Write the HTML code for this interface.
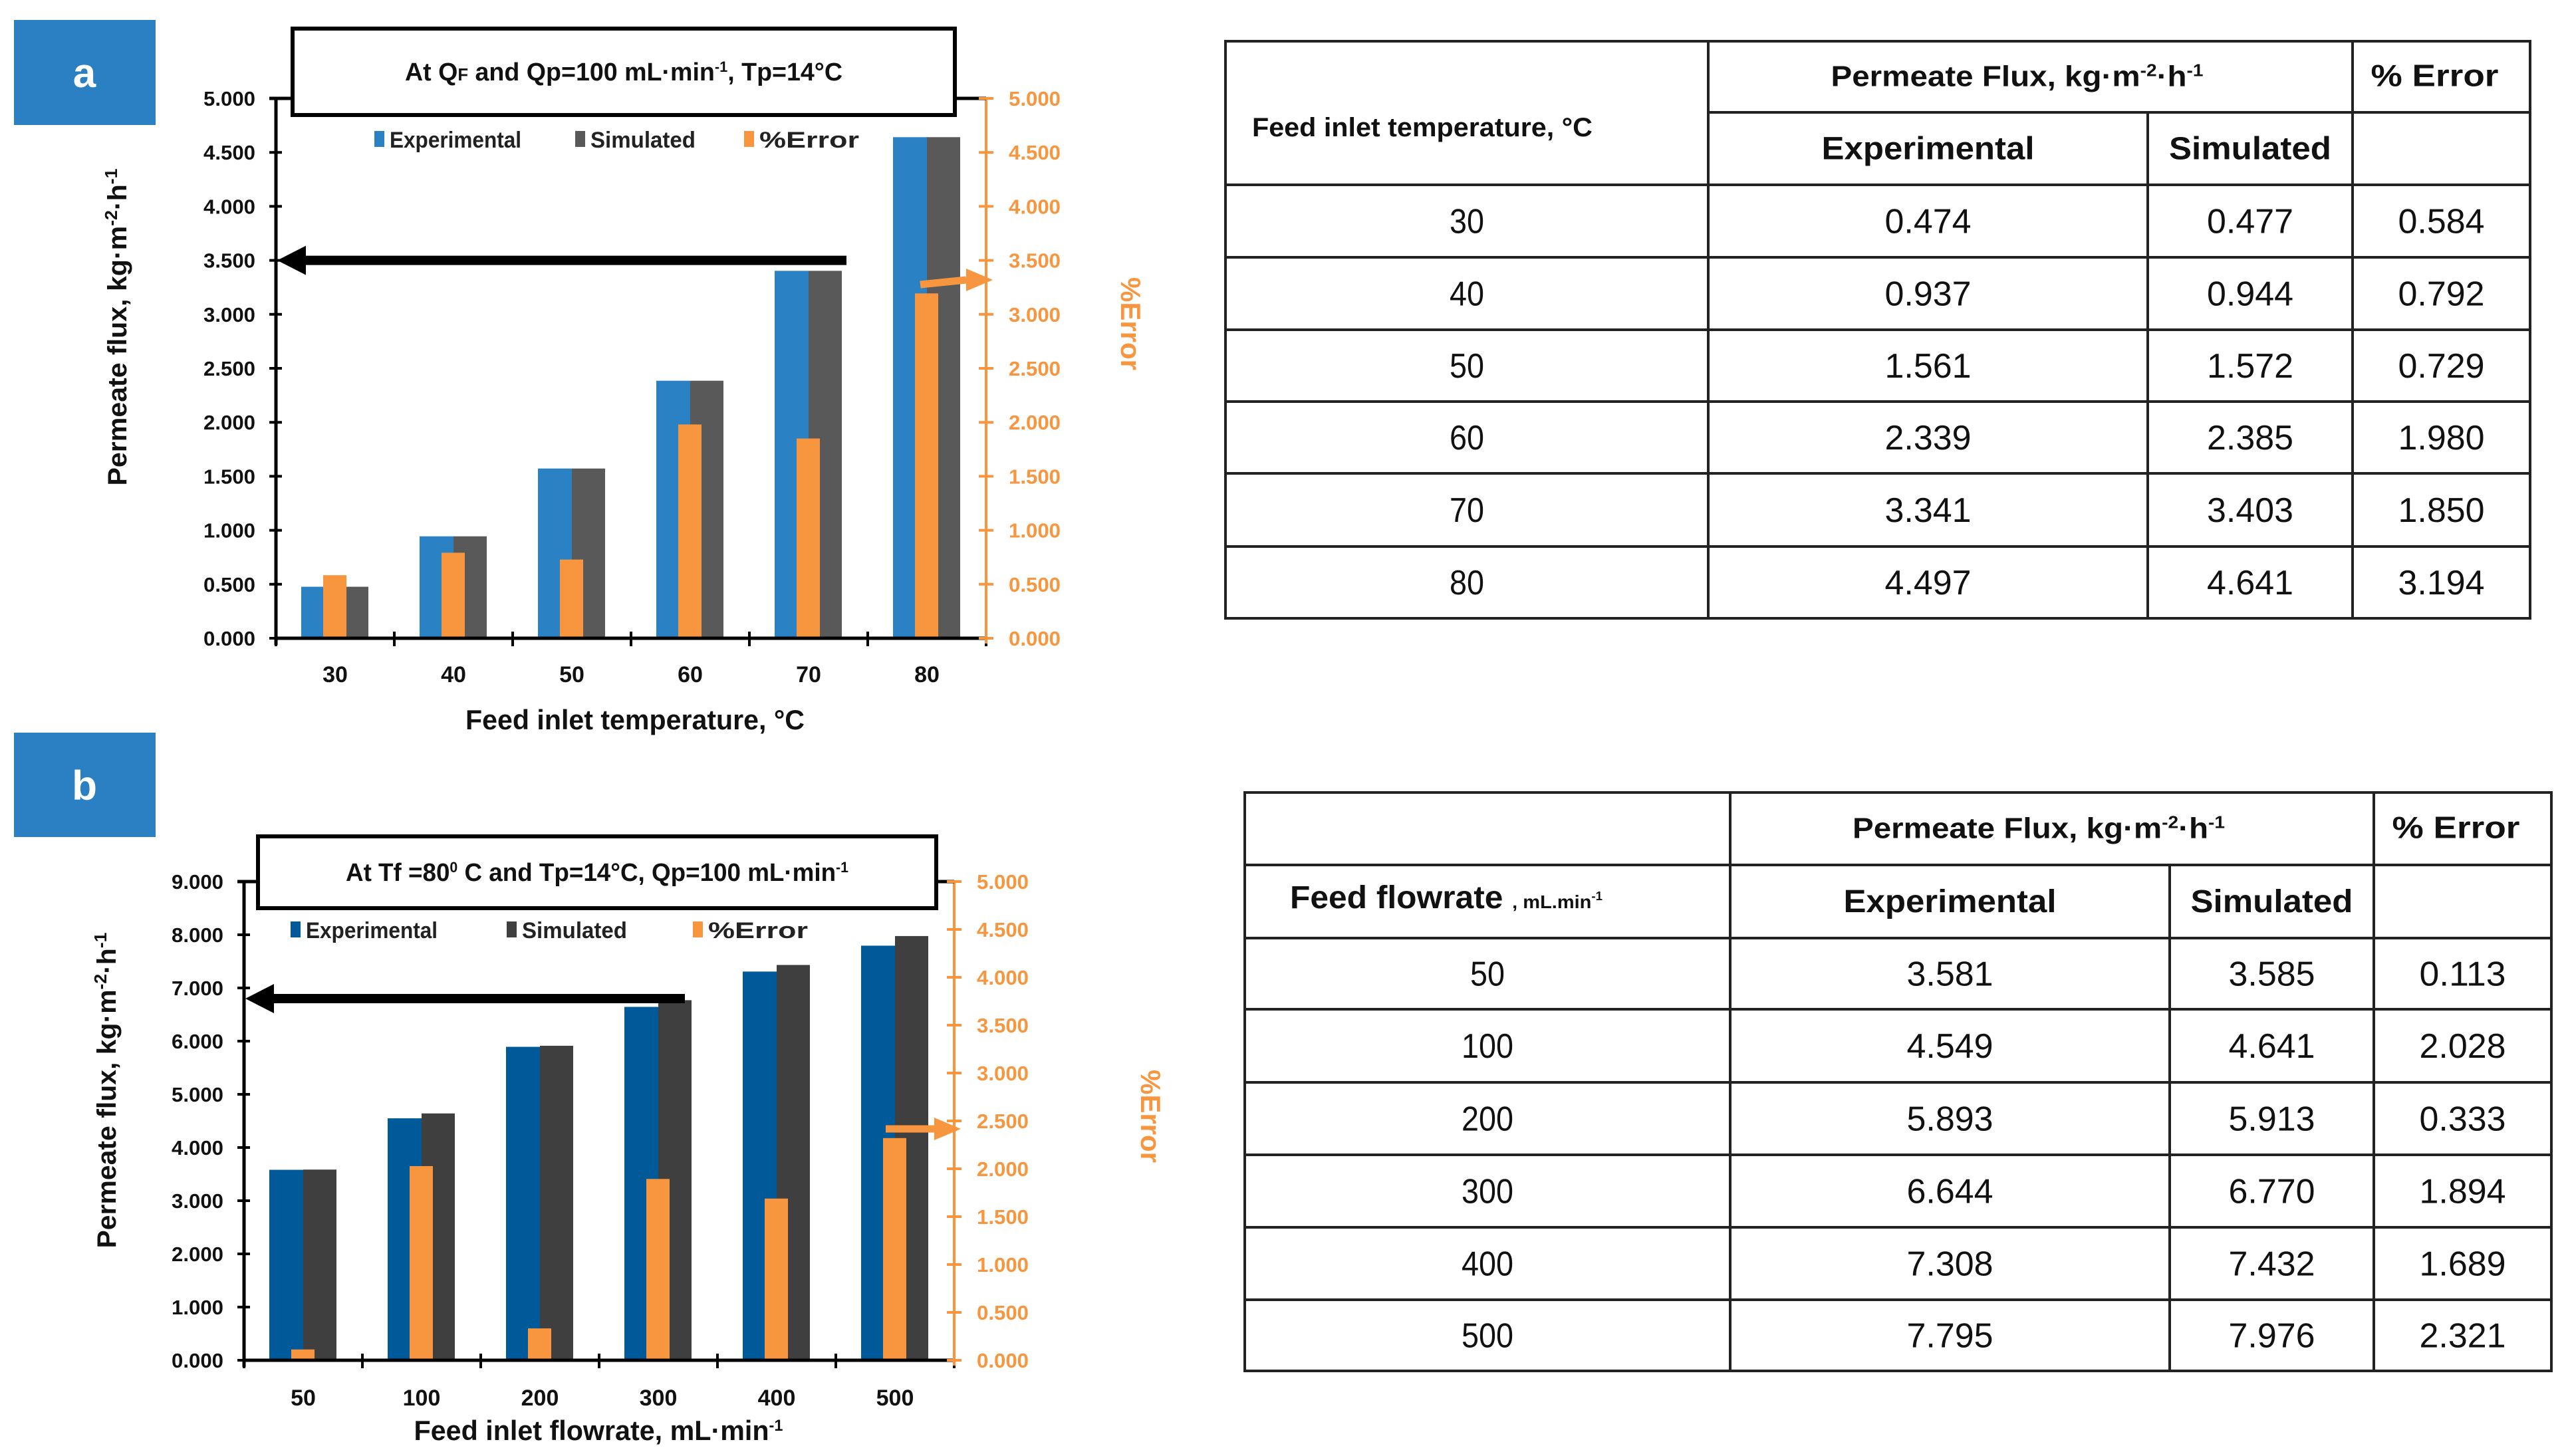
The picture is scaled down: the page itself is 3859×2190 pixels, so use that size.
<!DOCTYPE html>
<html><head><meta charset="utf-8">
<style>
html,body{margin:0;padding:0;background:#fff;}
svg{display:block;font-family:"Liberation Sans",sans-serif;}
</style></head>
<body>
<svg id="root" width="3859" height="2190" viewBox="0 0 3859 2190" xmlns="http://www.w3.org/2000/svg">
<g id="chartA"></g>
<g id="chartB"></g>
<g id="tableA"></g>
<g id="tableB"></g>
</svg>
<script>
// ---- data ----
const catsA = ["30","40","50","60","70","80"];
const expA = [0.477,0.944,1.572,2.385,3.403,4.641];
const simA = [0.477,0.944,1.572,2.385,3.403,4.641];
const errA = [0.584,0.792,0.729,1.980,1.850,3.194];
const tblExpA = [0.474,0.937,1.561,2.339,3.341,4.497];
const leftTicksA = ["0.000","0.500","1.000","1.500","2.000","2.500","3.000","3.500","4.000","4.500","5.000"];
const rightTicksA = ["0.000","0.500","1.000","1.500","2.000","2.500","3.000","3.500","4.000","4.500","5.000"];

const catsB = ["50","100","200","300","400","500"];
const expB = [3.581,4.549,5.893,6.644,7.308,7.795];
const simB = [3.585,4.641,5.913,6.770,7.432,7.976];
const errB = [0.113,2.028,0.333,1.894,1.689,2.321];
const leftTicksB = ["0.000","1.000","2.000","3.000","4.000","5.000","6.000","7.000","8.000","9.000"];
const rightTicksB = ["0.000","0.500","1.000","1.500","2.000","2.500","3.000","3.500","4.000","4.500","5.000"];

const NS="http://www.w3.org/2000/svg";
function mk(parent, tag, attrs, text){
  const e=document.createElementNS(NS,tag);
  for(const k in attrs) e.setAttribute(k,attrs[k]);
  if(text!==undefined) e.textContent=text;
  parent.appendChild(e); return e;
}
const ORANGE="#F7963F";

function chart(g, cfg){
  const {x0,x1,y0,yTop,lmax,rmax,cats,exp,sim,err,lt,rt,expC,simC} = cfg;
  const slot=(x1-x0)/cats.length;
  const yL=v=>y0-(v/lmax)*(y0-yTop);
  const yR=v=>y0-(v/rmax)*(y0-yTop);
  const cx=i=>x0+slot*(i+0.5);
  let e=mk(g,'rect',{x:21,y:cfg.pY,width:213,height:cfg.pH,fill:"#2A80C2"});
   
  e=mk(g,'text',{x:127,y:cfg.pY+cfg.pH/2+22,'font-size':62,'font-weight':'bold',fill:'#fff','text-anchor':'middle'},cfg.label);
   
  for(let i=0;i<cats.length;i++){
    e=mk(g,'rect',{x:cx(i)-51,y:yL(exp[i]),width:51,height:y0-yL(exp[i]),fill:expC});
     
    e=mk(g,'rect',{x:cx(i),y:yL(sim[i]),width:50,height:y0-yL(sim[i]),fill:simC});
     
    e=mk(g,'rect',{x:cx(i)-18,y:yR(err[i]),width:35,height:y0-yR(err[i]),fill:ORANGE});
     
  }
  e=mk(g,'line',{x1:x0,y1:yTop,x2:x0,y2:y0+10,stroke:'#000','stroke-width':5});
   
  e=mk(g,'line',{x1:x0-10,y1:yTop,x2:cfg.boxL,y2:yTop,stroke:'#000','stroke-width':5});
  for(let k=0;k<lt.length;k++){
    const v=parseFloat(lt[k]); const y=yL(v);
    mk(g,'line',{x1:x0-10,y1:y,x2:x0+9,y2:y,stroke:'#000','stroke-width':4});
    e=mk(g,'text',{x:x0-31,y:y+11,'font-size':31,'font-weight':'bold','text-anchor':'end',fill:'#111',textLength:78,lengthAdjust:'spacingAndGlyphs'},lt[k]);
     
  }
  e=mk(g,'line',{x1:x0,y1:y0,x2:x1,y2:y0,stroke:'#000','stroke-width':5});
   
  for(let i=0;i<=cats.length;i++){
    mk(g,'line',{x1:x0+slot*i,y1:y0-10,x2:x0+slot*i,y2:y0+12,stroke:'#000','stroke-width':4});
  }
  for(let i=0;i<cats.length;i++){
    e=mk(g,'text',{x:cx(i),y:cfg.xlY,'font-size':34,'font-weight':'bold','text-anchor':'middle',fill:'#111'},cats[i]);
     
  }
  e=mk(g,'line',{x1:x1,y1:yTop,x2:x1,y2:y0+8,stroke:ORANGE,'stroke-width':4});
   
  mk(g,'line',{x1:cfg.boxR,y1:yTop,x2:x1,y2:yTop,stroke:'#000','stroke-width':5});
  for(let k=0;k<rt.length;k++){
    const y=yR(parseFloat(rt[k]));
    mk(g,'line',{x1:x1-11,y1:y,x2:x1+11,y2:y,stroke:ORANGE,'stroke-width':4});
    e=mk(g,'text',{x:x1+34,y:y+11,'font-size':31,'font-weight':'bold',fill:ORANGE,textLength:78,lengthAdjust:'spacingAndGlyphs'},rt[k]);
     
  }
  e=mk(g,'rect',{x:cfg.boxL,y:cfg.boxT,width:cfg.boxR-cfg.boxL,height:cfg.boxB-cfg.boxT,fill:'#fff',stroke:'#000','stroke-width':6});
   
  e=mk(g,'text',{x:(cfg.boxL+cfg.boxR)/2,y:(cfg.boxT+cfg.boxB)/2+13,'font-size':38,'font-weight':'bold','text-anchor':'middle',textLength:cfg.titleW,lengthAdjust:'spacingAndGlyphs',fill:'#111'});
  e.innerHTML=cfg.titleHTML;
   
  const L=cfg.leg; const names=['Experimental','Simulated','%Error']; const cols=[expC,simC,ORANGE];
  for(let k=0;k<3;k++){
    e=mk(g,'rect',{x:L.x[k],y:L.y-13,width:15,height:24,fill:cols[k]});
     
    e=mk(g,'text',{x:L.x[k]+23,y:L.y+12,'font-size':34,'font-weight':'bold',textLength:L.w[k],lengthAdjust:'spacingAndGlyphs',fill:'#222'},names[k]);
     
  }
  const ay=yL(cfg.arrowV);
  e=mk(g,'line',{x1:x0+40,y1:ay,x2:cfg.arrowEnd,y2:ay,stroke:'#000','stroke-width':14});
   
  mk(g,'polygon',{points:`${x0+2},${ay} ${x0+45},${ay-22} ${x0+45},${ay+22}`,fill:'#000'});
  const o=cfg.oArrow;
  e=mk(g,'line',{x1:o[0],y1:o[1],x2:x1-30,y2:o[3],stroke:ORANGE,'stroke-width':11});
   
  mk(g,'polygon',{points:`${x1+10},${o[3]} ${x1-30},${o[3]-17} ${x1-30},${o[3]+17}`,fill:ORANGE});
  e=mk(g,'text',{x:0,y:0,'font-size':40,'font-weight':'bold','text-anchor':'middle',fill:'#111',textLength:cfg.ytW,lengthAdjust:'spacingAndGlyphs',transform:`translate(${cfg.ytX},${cfg.ytY}) rotate(-90)`});
  e.innerHTML='Permeate flux, kg·m<tspan dy="-14" font-size="26">-2</tspan><tspan dy="14">·h</tspan><tspan dy="-14" font-size="26">-1</tspan>';
   
  e=mk(g,'text',{x:0,y:0,'font-size':42,'font-weight':'bold','text-anchor':'middle',fill:ORANGE,transform:`translate(${cfg.rtX},${cfg.rtY}) rotate(90)`},'%Error');
   
  e=mk(g,'text',{x:cfg.xtX,y:cfg.xtY,'font-size':42,'font-weight':'bold','text-anchor':'middle',fill:'#111',textLength:cfg.xtW,lengthAdjust:'spacingAndGlyphs'});
  e.innerHTML=cfg.xtHTML;
   
}

chart(document.getElementById('chartA'),{
  label:'a',pY:30,pH:158,
  x0:415,x1:1483,y0:960,yTop:148,lmax:5,rmax:5,cats:catsA,exp:expA,sim:simA,err:errA,lt:leftTicksA,rt:rightTicksA,
  expC:'#2A82C5',simC:'#595959',xlY:1026,
  boxL:440,boxR:1436,boxT:43,boxB:173,titleW:658,
  titleHTML:'At Q<tspan font-size="26">F</tspan> and Qp=100 mL·min<tspan dy="-13" font-size="22">-1</tspan><tspan dy="13">, Tp=14°C</tspan>',
  leg:{x:[563,865,1119],y:210,w:[198,158,150]},
  arrowV:3.5,arrowEnd:1273,oArrow:[1384,428,0,421],
  ytX:190,ytY:492,ytW:477,rtX:1686,rtY:487,xtX:955,xtY:1097,xtW:510,
  xtHTML:'Feed inlet temperature, °C'
});
chart(document.getElementById('chartB'),{
  label:'b',pY:1102,pH:157,
  x0:367,x1:1435,y0:2046,yTop:1326,lmax:9,rmax:5,cats:catsB,exp:expB,sim:simB,err:errB,lt:leftTicksB,rt:rightTicksB,
  expC:'#005A9A',simC:'#3F3F3F',xlY:2114,
  boxL:388,boxR:1408,boxT:1258,boxB:1366,titleW:756,
  titleHTML:'At Tf =80<tspan dy="-13" font-size="22">0</tspan><tspan dy="13"> C and Tp=14°C, Qp=100 mL·min</tspan><tspan dy="-13" font-size="22">-1</tspan>',
  leg:{x:[437,762,1042],y:1399,w:[198,158,150]},
  arrowV:6.8,arrowEnd:1030,oArrow:[1332,1698,0,1698],
  ytX:174,ytY:1640,ytW:475,rtX:1716,rtY:1679,xtX:900,xtY:2166,xtW:555,
  xtHTML:'Feed inlet flowrate, mL·min<tspan dy="-14" font-size="24">-1</tspan>'
});

// ---- tables ----
const fmt=v=>v.toFixed(3);
function table(g,cfg,cats,exp,sim,err){
  const {L,R,c1,c2,c3,T,H1,H2,rows}=cfg;
  const B=rows[rows.length-1];
  let e=mk(g,'rect',{x:L,y:T,width:R-L,height:B-T,fill:'#fff',stroke:'#222','stroke-width':4});
   
  mk(g,'line',{x1:c1,y1:T,x2:c1,y2:B,stroke:'#222','stroke-width':4});
  mk(g,'line',{x1:c2,y1:H1,x2:c2,y2:B,stroke:'#222','stroke-width':4});
  mk(g,'line',{x1:c3,y1:T,x2:c3,y2:B,stroke:'#222','stroke-width':4});
  mk(g,'line',{x1:cfg.h1L,y1:H1,x2:R,y2:H1,stroke:'#222','stroke-width':4});
  mk(g,'line',{x1:L,y1:H2,x2:R,y2:H2,stroke:'#222','stroke-width':4});
  for(let r=0;r<rows.length-1;r++) mk(g,'line',{x1:L,y1:rows[r],x2:R,y2:rows[r],stroke:'#222','stroke-width':4});
  const hy=(T+H1)/2+14;
  e=mk(g,'text',{x:(c1+c3)/2-20,y:hy,'font-size':44,'font-weight':'bold','text-anchor':'middle',textLength:560,lengthAdjust:'spacingAndGlyphs',fill:'#111'});
  e.innerHTML='Permeate Flux, kg·m<tspan dy="-15" font-size="26">-2</tspan><tspan dy="15">·h</tspan><tspan dy="-15" font-size="26">-1</tspan>';
   
  e=mk(g,'text',{x:(c3+R)/2-10,y:hy,'font-size':46,'font-weight':'bold','text-anchor':'middle',fill:'#111',textLength:192,lengthAdjust:'spacingAndGlyphs'},'%  Error');
   
  const ey=(H1+H2)/2+16;
  e=mk(g,'text',{x:(c1+c2)/2,y:ey,'font-size':48,'font-weight':'bold','text-anchor':'middle',textLength:320,lengthAdjust:'spacingAndGlyphs',fill:'#111'},'Experimental');
   
  e=mk(g,'text',{x:(c2+c3)/2,y:ey,'font-size':48,'font-weight':'bold','text-anchor':'middle',textLength:244,lengthAdjust:'spacingAndGlyphs',fill:'#111'},'Simulated');
   
  e=mk(g,'text',{x:cfg.fx,y:cfg.fy,'font-size':cfg.fs,'font-weight':'bold',fill:'#111',textLength:cfg.fw,lengthAdjust:'spacingAndGlyphs'});
  e.innerHTML=cfg.fHTML;
   
  const cols=[[ (L+c1)/2, i=>cats[i] ],[ (c1+c2)/2, i=>fmt(exp[i]) ],[ (c2+c3)/2, i=>fmt(sim[i]) ],[ (c3+R)/2, i=>fmt(err[i]) ]];
  for(let i=0;i<cats.length;i++){
    const yc=(rows[i]+ (i===0?H2:rows[i-1]))/2+18;
    for(let k=0;k<4;k++){
      const s=cols[k][1](i);
      e=mk(g,'text',{x:cols[k][0],y:yc,'font-size':52,'text-anchor':'middle',fill:'#111',textLength:s.length*26,lengthAdjust:'spacingAndGlyphs'},s);
       
    }
  }
}
table(document.getElementById('tableA'),{L:1843,R:3805,c1:2569,c2:3230,c3:3538,T:62,H1:169,H2:278,h1L:2569,
  rows:[387,496,604,712,822,930],fx:1883,fy:205,fs:40,fw:512,fHTML:'Feed inlet temperature, °C'},catsA,tblExpA,simA,errA);
table(document.getElementById('tableB'),{L:1872,R:3837,c1:2602,c2:3263,c3:3570,T:1192,H1:1301,H2:1411,h1L:1872,
  rows:[1518,1628,1737,1846,1955,2062],fx:1940,fy:1366,fs:48,fw:470,
  fHTML:'Feed  flowrate <tspan font-size="28">, mL.min</tspan><tspan dy="-12" font-size="18">-1</tspan>'},catsB,expB,simB,errB);
</script>
</body></html>
